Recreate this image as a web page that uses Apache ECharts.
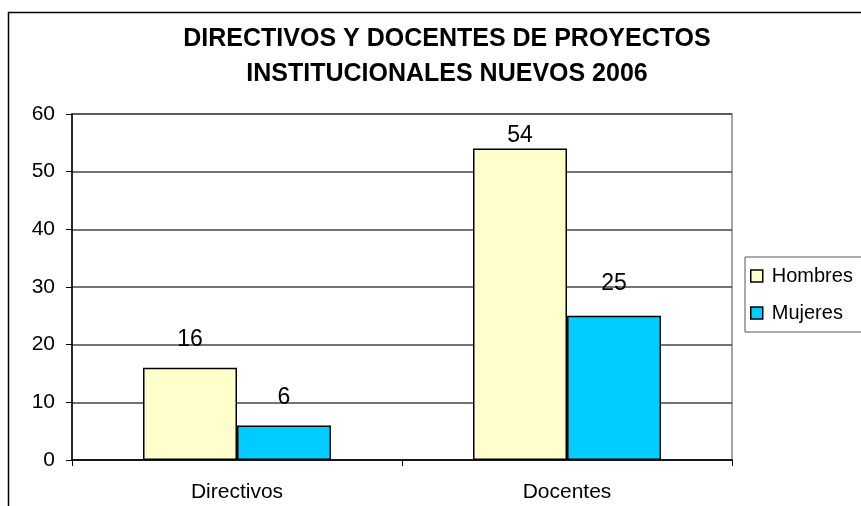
<!DOCTYPE html>
<html>
<head>
<meta charset="utf-8">
<script src="https://cdn.jsdelivr.net/npm/echarts@6/dist/echarts.min.js"></script>
<style>
  html, body { margin: 0; padding: 0; background: #fff; }
  #main { width: 861px; height: 506px; }
</style>
</head>
<body>
<div id="main"></div>
<script>
const categories = ['Directivos', 'Docentes'];
const hombres = [16, 54];
const mujeres = [6, 25];
const yTicks = [0, 10, 20, 30, 40, 50, 60];

// Excel puts the labels at odd heights, nudge them per bar
const hombresLift = [17, 1];
const mujeresLift = [16, 21];

const chartDom = document.getElementById('main');
const myChart = echarts.init(chartDom);

const font = 'Arial, "Liberation Sans", sans-serif';

function withLabels(values, lift) {
  return values.map((v, i) => ({
    value: v,
    label: { distance: lift[i] }
  }));
}

const option = {
  backgroundColor: '#fff',
  animation: false,
  title: {
    text: 'DIRECTIVOS Y DOCENTES DE PROYECTOS\nINSTITUCIONALES NUEVOS 2006',
    left: 442,
    textAlign: 'center',
    top: 17,
    textStyle: {
      fontFamily: font,
      fontSize: 25,
      fontWeight: 'bold',
      color: '#000',
      lineHeight: 35
    }
  },
  graphic: [{
    type: 'rect',
    shape: { x: 8.5, y: 12.5, width: 900, height: 600 },
    style: { fill: 'none', stroke: '#000', lineWidth: 1.5 },
    silent: true
  }, {
    type: 'rect',
    shape: { x: 72, y: 114, width: 660, height: 346 },
    style: { fill: 'none', stroke: '#888', lineWidth: 1.5 },
    silent: true,
    z: -1
  }],
  legend: {
    left: 745,
    top: 257,
    orient: 'vertical',
    itemGap: 17,
    itemWidth: 12,
    itemHeight: 12,
    icon: 'rect',
    padding: [9, 20, 9, 5],
    borderColor: '#555',
    borderWidth: 1,
    backgroundColor: '#fff',
    textStyle: { fontFamily: font, fontSize: 20, color: '#000', padding: [0, 0, 0, 4] },
    itemStyle: { borderColor: '#000', borderWidth: 1.5 },
    data: ['Hombres', 'Mujeres']
  },
  grid: {
    left: 72,
    right: 129,
    top: 114,
    bottom: 46
  },
  xAxis: {
    type: 'category',
    data: categories,
    axisLine: { lineStyle: { color: '#000', width: 1.5 } },
    axisTick: { show: true, length: 6, lineStyle: { color: '#000' } },
    axisLabel: { fontFamily: font, fontSize: 21, color: '#000', margin: 22 }
  },
  yAxis: {
    type: 'value',
    min: yTicks[0],
    max: yTicks[yTicks.length - 1],
    interval: 10,
    axisLine: { show: true, lineStyle: { color: '#000', width: 1.5 } },
    axisTick: { show: true, length: 6, lineStyle: { color: '#000' } },
    axisLabel: { fontFamily: font, fontSize: 21, color: '#000', margin: 17 },
    splitLine: { lineStyle: { color: '#444', width: 1.5 } }
  },
  series: [{
    name: 'Hombres',
    type: 'bar',
    data: withLabels(hombres, hombresLift),
    barWidth: 94,
    barGap: '0%',
    itemStyle: { color: '#FFFFCC', borderColor: '#000', borderWidth: 1.5 },
    label: { show: true, position: 'top', fontFamily: font, fontSize: 23, color: '#000' }
  }, {
    name: 'Mujeres',
    type: 'bar',
    data: withLabels(mujeres, mujeresLift),
    barWidth: 94,
    itemStyle: { color: '#00CCFF', borderColor: '#000', borderWidth: 1.5 },
    label: { show: true, position: 'top', fontFamily: font, fontSize: 23, color: '#000' }
  }]
};

option && myChart.setOption(option);
</script>
</body>
</html>
